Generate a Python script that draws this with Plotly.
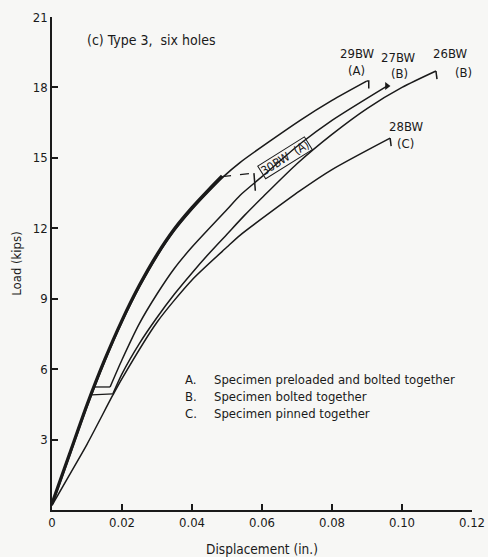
import plotly.graph_objects as go

# ---- data (displacement in., load kips) ----
a_x = [0, 0.005, 0.01, 0.015, 0.02, 0.025, 0.03, 0.035, 0.04, 0.045, 0.049, 0.0537, 0.0709, 0.08, 0.0899]
a_y = [0.2, 2.3, 4.4, 6.3, 8.0, 9.5, 10.8, 11.9, 12.8, 13.6, 14.2, 14.8, 16.6, 17.45, 18.27]

bw30_x = [0, 0.005, 0.01, 0.015, 0.02, 0.025, 0.03, 0.035, 0.04, 0.045, 0.0486]
bw30_y = [0.2, 2.3, 4.4, 6.3, 8.0, 9.5, 10.8, 11.9, 12.8, 13.6, 14.15]

bw27_x = [0.0122, 0.0166, 0.02, 0.025, 0.03, 0.035, 0.04, 0.05, 0.0537, 0.06, 0.0709, 0.08, 0.0957]
bw27_y = [5.24, 5.24, 6.4, 7.95, 9.2, 10.3, 11.2, 12.8, 13.4, 14.2, 15.6, 16.6, 18.06]

bw26_x = [0.0113, 0.0174, 0.02, 0.025, 0.03, 0.035, 0.04, 0.045, 0.05, 0.055, 0.06, 0.07, 0.08, 0.09, 0.1, 0.1097]
bw26_y = [4.9, 4.95, 5.8, 7.1, 8.2, 9.2, 10.1, 10.95, 11.75, 12.55, 13.3, 14.75, 16.0, 17.1, 18.0, 18.7]

bw28_x = [0, 0.005, 0.01, 0.0174, 0.02, 0.03, 0.04, 0.05, 0.0537, 0.0709, 0.08, 0.0966]
bw28_y = [0.2, 1.5, 2.8, 4.9, 5.6, 8.0, 9.8, 11.2, 11.7, 13.6, 14.5, 15.84]

x_ticks = [0, 0.02, 0.04, 0.06, 0.08, 0.10, 0.12]
x_tick_text = ["0", "0.02", "0.04", "0.06", "0.08", "0.10", "0.12"]
y_ticks = [3, 6, 9, 12, 15, 18, 21]
y_tick_text = ["3", "6", "9", "12", "15", "18", "21"]

FONT = "DejaVu Sans Condensed, Liberation Sans Narrow, sans-serif"
INK = "#1a1a1a"
BG = "#f7f7f5"

fig = go.Figure()

def curve(x, y, w=1.5, shape="spline", dash="solid"):
    fig.add_trace(go.Scatter(x=x, y=y, mode="lines",
                             line=dict(color=INK, width=w, shape=shape, smoothing=0.7, dash=dash),
                             showlegend=False, hoverinfo="skip"))

# A curves (29BW full, 30BW thick overlap)
curve(a_x, a_y, 1.6)
curve(bw30_x, [v + 0.08 for v in bw30_y], 3.2)
# 30BW end: dashed + tick
curve([bw30_x[-1], 0.0577], [bw30_y[-1] + 0.05, 14.35], 1.2, "linear", "dash")
curve([0.0577, 0.0581], [14.35, 13.6], 1.5, "linear")

# B curves: slip segments then continuation
curve(bw27_x[:2], bw27_y[:2], 1.3, "linear")
curve(bw27_x[1:], bw27_y[1:], 1.5)
curve(bw26_x[:2], bw26_y[:2], 1.3, "linear")
curve(bw26_x[1:], bw26_y[1:], 1.5)

# C curve
curve(bw28_x, bw28_y, 1.5)

# end markers
curve([a_x[-1], 0.0905, 0.0905], [a_y[-1], 18.27, 17.95], 1.5, "linear")
curve([bw26_x[-1], 0.1100], [bw26_y[-1], 18.35], 1.5, "linear")
curve([bw28_x[-1], 0.0969], [bw28_y[-1], 15.5], 1.5, "linear")
fig.add_trace(go.Scatter(x=[bw27_x[-1]], y=[bw27_y[-1]], mode="markers",
                         marker=dict(symbol="triangle-right", size=7, color=INK),
                         showlegend=False, hoverinfo="skip"))

ann = [
    dict(x=0.0094, y=20.0, text="(c) Type 3,  six holes", xanchor="left", size=14),
    dict(x=0.0871, y=19.46, text="29BW"),
    dict(x=0.0871, y=18.74, text="(A)"),
    dict(x=0.0989, y=19.29, text="27BW"),
    dict(x=0.0994, y=18.61, text="(B)"),
    dict(x=0.1137, y=19.46, text="26BW"),
    dict(x=0.1147, y=18.65, text="(B)", xanchor="left"),
    dict(x=0.1011, y=16.35, text="28BW"),
    dict(x=0.0980, y=15.63, text="(C)", xanchor="left"),
    dict(x=0.0374, y=5.58, text="A.", xanchor="left"),
    dict(x=0.0374, y=4.85, text="B.", xanchor="left"),
    dict(x=0.0374, y=4.1, text="C.", xanchor="left"),
    dict(x=0.0457, y=5.58, text="Specimen preloaded and bolted together", xanchor="left"),
    dict(x=0.0457, y=4.85, text="Specimen bolted together", xanchor="left"),
    dict(x=0.0457, y=4.1, text="Specimen pinned together", xanchor="left"),
]
for a in ann:
    fig.add_annotation(x=a["x"], y=a["y"], text=a["text"], showarrow=False,
                       xanchor=a.get("xanchor", "center"), yanchor="middle",
                       font=dict(family=FONT, size=a.get("size", 13), color=INK))

fig.add_annotation(x=0.0665, y=15.0, text="30BW  (A)", showarrow=False, textangle=-32,
                   font=dict(family=FONT, size=12, color=INK),
                   bordercolor=INK, borderwidth=1, borderpad=0)

fig.update_layout(
    width=488, height=557,
    margin=dict(l=52, r=16, t=17, b=47, autoexpand=False),
    paper_bgcolor=BG, plot_bgcolor=BG,
    font=dict(family=FONT, size=13, color=INK),
    xaxis=dict(range=[0, 0.12], tickvals=x_ticks, ticktext=x_tick_text, automargin=False,
               showgrid=False, zeroline=False, showline=True, linecolor=INK, linewidth=1.5,
               ticks="inside", ticklen=6, tickwidth=1.5, tickcolor=INK,
               title=dict(text="Displacement (in.)", font=dict(size=13.5), standoff=15),
               tickfont=dict(size=13)),
    yaxis=dict(range=[0, 21], tickvals=y_ticks, ticktext=y_tick_text, automargin=False,
               showgrid=False, zeroline=False, showline=True, linecolor=INK, linewidth=1.5,
               ticks="inside", ticklen=6, tickwidth=1.5, tickcolor=INK,
               title=dict(text="Load (kips)", font=dict(size=13), standoff=8),
               tickfont=dict(size=13)),
)

post = (
    "document.documentElement.style.overflow='hidden';"
    "document.body.style.margin='0';document.body.style.overflow='hidden';"
    "document.body.style.background='" + BG + "';"
    "var d=document.getElementById('{plot_id}');var p=d.parentElement;"
    "p.style.width='488px';p.style.height='557px';p.style.overflow='hidden';p.style.position='relative';"
)

fig.write_html("out.html", config={"displayModeBar": False}, post_script=post)
